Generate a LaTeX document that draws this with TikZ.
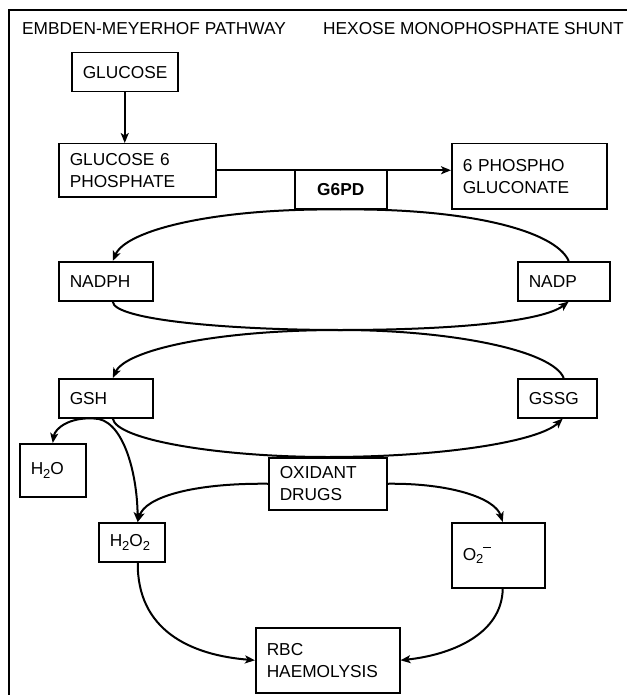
\documentclass[tikz,border=0pt]{standalone}
\usepackage{fontspec}
\setmainfont{Liberation Sans}
\usetikzlibrary{arrows.meta}
\newcommand{\lowtwo}{\raisebox{-3.5pt}{\fontsize{13}{12}\selectfont 2}}
\begin{document}
\begin{tikzpicture}[x=1pt,y=-1pt,
  every node/.style={font=\fontsize{17.3}{22}\selectfont},
  box/.style={draw, line width=1.5pt, anchor=north west, inner xsep=11pt, inner ysep=0pt, align=left},
  hdr/.style={anchor=base west, inner sep=0pt},
  arr/.style={line width=2pt, -{Stealth[length=10pt,width=8pt,inset=2.5pt]}}
]
\useasboundingbox (0,0) rectangle (627,695);
\draw[line width=1.1pt] (9,695) -- (9,10) -- (627,10);

\node[hdr] (hleft) at (22,35) {EMBDEN-MEYERHOF PATHWAY};
\node[hdr] (hright) at (323,35) {HEXOSE MONOPHOSPHATE SHUNT};

\node[box, minimum width=106pt, minimum height=39pt, text width=84pt] (glucose) at (71,52) {GLUCOSE};
\node[box, minimum width=157pt, minimum height=53pt, text width=135pt] (gsixp) at (58,143) {GLUCOSE 6\\PHOSPHATE};
\node[box, minimum width=92pt, minimum height=39pt, inner xsep=0pt, align=center, font=\fontsize{17.3}{22}\selectfont\bfseries] (gsixpd) at (294,169) {G6PD};
\node[box, minimum width=155pt, minimum height=65pt, text width=133pt] (pgluc) at (451,143) {6 PHOSPHO\\GLUCONATE};
\node[box, minimum width=94pt, minimum height=39pt, text width=72pt] (nadph) at (58,261) {NADPH};
\node[box, minimum width=92pt, minimum height=39pt, text width=70pt] (nadp) at (517,261) {NADP};
\node[box, minimum width=94pt, minimum height=39pt, text width=72pt] (gsh) at (58,378) {GSH};
\node[box, minimum width=79pt, minimum height=39pt, text width=57pt] (gssg) at (517,378) {GSSG};
\node[box, minimum width=66pt, minimum height=53pt, text width=44pt] (water) at (19,443) {H\lowtwo O\\[4pt]};
\node[box, minimum width=118pt, minimum height=52pt, text width=96pt] (oxid) at (268,457) {OXIDANT\\DRUGS};
\node[box, minimum width=66pt, minimum height=39pt, text width=44pt] (perox) at (98,522) {H\lowtwo O\lowtwo};
\node[box, minimum width=93pt, minimum height=65pt, text width=71pt] (superox) at (451,522) {O\lowtwo\raisebox{12.5pt}{\rule{8pt}{1.2pt}}};
\node[box, minimum width=144pt, minimum height=65pt, text width=122pt] (rbc) at (255,627) {RBC\\HAEMOLYSIS};

\coordinate (mid) at (340,330);

% glycolysis
\draw[arr] (glucose.south) -- (glucose.south |- gsixp.north);
\draw[arr] (gsixp.east) -- (gsixp.east -| pgluc.west);

% NADP -> NADPH (top arc through G6PD)
\draw[arr] ([xshift=5pt]nadp.north) .. controls (555,230) and (465,208) .. (gsixpd.south)
  .. controls (215,208) and (126,230) .. ([xshift=7pt]nadph.north);
% NADPH -> NADP (lower arc)
\draw[arr] ([xshift=7pt]nadph.south) .. controls (113,320) and (230,330) .. (mid)
  .. controls (450,330) and (542,322) .. ([xshift=5pt]nadp.south);
% GSSG -> GSH
\draw[arr] ([xshift=6.5pt]gssg.north) .. controls (552,350) and (450,330) .. (mid)
  .. controls (215,330) and (126,350) .. ([xshift=7pt]gsh.north);
% GSH -> GSSG (through oxidant drugs top)
\draw[arr] ([xshift=7pt]gsh.south) .. controls (116,440) and (220,457) .. (oxid.north)
  .. controls (440,457) and (538,442) .. ([xshift=5.5pt]gssg.south);
% GSH -> H2O and H2O2
\draw[arr] ([xshift=-12pt]gsh.south) .. controls (70,417) and (55,428) .. (water.north);
\draw[arr] ([xshift=-12pt]gsh.south) .. controls (122,418) and (137,470) .. ([xshift=6pt]perox.north);
% oxidant drugs
\draw[arr] (oxid.west) .. controls (190,483) and (145,498) .. ([xshift=6pt]perox.north);
\draw[arr] (oxid.east) .. controls (450,483) and (495,498) .. ([xshift=4.5pt]superox.north);
% to haemolysis
\draw[arr] ([xshift=6pt]perox.south) .. controls (137,630) and (190,655) .. (rbc.west);
\draw[arr] ([xshift=4.5pt]superox.south) .. controls (502,635) and (450,655) .. (rbc.east);
\end{tikzpicture}
\end{document}
